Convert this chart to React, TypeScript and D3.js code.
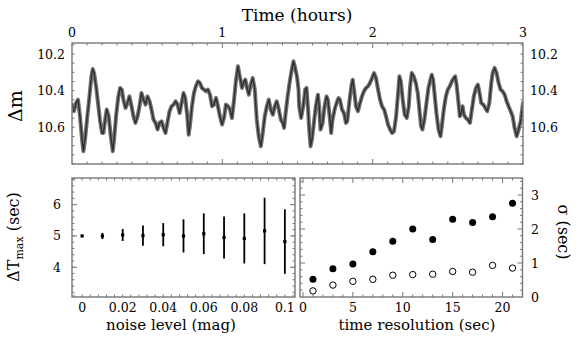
import React from "react";
import * as d3 from "d3";

// light curve: [hours, delta mag]
const lightCurve: [number, number][] = [
  [0.0, 10.476], [0.013, 10.512], [0.027, 10.467], [0.04, 10.449], [0.053, 10.54], [0.067, 10.667],
  [0.076, 10.73], [0.089, 10.649], [0.102, 10.54], [0.116, 10.431], [0.129, 10.322], [0.138, 10.282],
  [0.147, 10.304], [0.16, 10.376], [0.173, 10.467], [0.187, 10.567], [0.2, 10.631], [0.209, 10.631],
  [0.222, 10.549], [0.231, 10.503], [0.244, 10.54], [0.258, 10.649], [0.271, 10.73], [0.28, 10.667],
  [0.293, 10.54], [0.307, 10.44], [0.32, 10.385], [0.331, 10.394], [0.342, 10.449], [0.356, 10.494],
  [0.369, 10.467], [0.382, 10.431], [0.396, 10.485], [0.409, 10.54], [0.422, 10.576], [0.436, 10.54],
  [0.449, 10.485], [0.462, 10.413], [0.476, 10.449], [0.489, 10.476], [0.502, 10.431], [0.516, 10.458],
  [0.529, 10.503], [0.542, 10.558], [0.556, 10.576], [0.569, 10.612], [0.582, 10.576], [0.596, 10.567],
  [0.609, 10.603], [0.622, 10.631], [0.636, 10.567], [0.649, 10.512], [0.662, 10.485], [0.676, 10.476],
  [0.689, 10.458], [0.702, 10.476], [0.716, 10.522], [0.729, 10.467], [0.742, 10.413],
  [0.753, 10.44], [0.767, 10.54], [0.776, 10.64], [0.784, 10.594], [0.798, 10.485], [0.811, 10.413],
  [0.824, 10.376], [0.838, 10.349], [0.851, 10.358], [0.864, 10.385], [0.878, 10.394], [0.891, 10.403],
  [0.904, 10.394], [0.918, 10.422], [0.931, 10.485], [0.944, 10.476], [0.958, 10.44], [0.971, 10.485],
  [0.984, 10.54], [0.998, 10.585], [1.011, 10.549], [1.024, 10.476], [1.038, 10.485], [1.051, 10.503],
  [1.064, 10.549], [1.078, 10.449], [1.091, 10.34], [1.104, 10.267], [1.118, 10.331], [1.131, 10.385],
  [1.14, 10.358], [1.153, 10.34], [1.162, 10.376], [1.176, 10.422], [1.189, 10.367], [1.202, 10.331],
  [1.216, 10.394], [1.229, 10.558], [1.242, 10.649], [1.256, 10.703], [1.269, 10.631], [1.282, 10.54],
  [1.296, 10.485], [1.309, 10.449], [1.322, 10.503], [1.336, 10.531], [1.349, 10.485], [1.362, 10.458],
  [1.376, 10.503], [1.389, 10.558], [1.402, 10.576], [1.411, 10.603], [1.42, 10.531], [1.433, 10.44],
  [1.447, 10.358], [1.46, 10.294], [1.473, 10.24], [1.482, 10.267], [1.496, 10.322], [1.507, 10.394],
  [1.511, 10.485], [1.524, 10.549], [1.538, 10.485], [1.551, 10.394], [1.56, 10.385], [1.569, 10.485],
  [1.578, 10.612], [1.587, 10.703], [1.596, 10.667], [1.609, 10.576], [1.622, 10.485], [1.636, 10.422],
  [1.644, 10.485], [1.653, 10.612], [1.667, 10.576], [1.68, 10.485], [1.693, 10.431], [1.702, 10.449],
  [1.716, 10.558], [1.724, 10.631], [1.733, 10.558], [1.747, 10.503], [1.76, 10.467], [1.773, 10.44],
  [1.782, 10.449], [1.796, 10.503], [1.809, 10.522], [1.822, 10.576], [1.831, 10.567], [1.844, 10.467],
  [1.858, 10.376], [1.867, 10.34], [1.876, 10.394], [1.889, 10.485], [1.902, 10.512], [1.916, 10.467],
  [1.929, 10.431], [1.942, 10.403], [1.956, 10.385], [1.969, 10.376], [1.982, 10.358], [1.996, 10.331],
  [2.009, 10.304], [2.022, 10.331], [2.036, 10.394], [2.049, 10.449], [2.062, 10.485], [2.076, 10.503],
  [2.089, 10.54], [2.102, 10.585], [2.116, 10.612], [2.129, 10.631], [2.142, 10.621], [2.156, 10.54],
  [2.169, 10.413], [2.178, 10.322], [2.187, 10.349], [2.2, 10.449], [2.213, 10.531], [2.227, 10.549],
  [2.24, 10.485], [2.249, 10.376], [2.26, 10.304],
  [2.273, 10.322], [2.287, 10.358], [2.3, 10.413], [2.313, 10.522], [2.322, 10.594], [2.331, 10.612],
  [2.344, 10.558], [2.358, 10.467], [2.371, 10.385], [2.384, 10.34], [2.393, 10.313], [2.402, 10.34],
  [2.411, 10.413], [2.424, 10.522], [2.438, 10.612], [2.451, 10.649], [2.46, 10.594], [2.473, 10.503],
  [2.487, 10.431], [2.5, 10.394], [2.513, 10.376], [2.527, 10.349], [2.54, 10.331], [2.549, 10.322],
  [2.558, 10.367], [2.571, 10.467], [2.58, 10.54], [2.589, 10.522], [2.598, 10.485], [2.607, 10.531],
  [2.62, 10.549], [2.633, 10.558], [2.647, 10.576], [2.66, 10.503], [2.673, 10.431], [2.687, 10.385],
  [2.7, 10.367], [2.713, 10.422], [2.722, 10.467], [2.736, 10.476], [2.749, 10.494], [2.762, 10.512],
  [2.776, 10.467], [2.789, 10.358], [2.798, 10.304], [2.811, 10.276], [2.824, 10.304], [2.838, 10.358],
  [2.851, 10.394], [2.864, 10.403], [2.878, 10.422], [2.891, 10.458], [2.904, 10.485], [2.918, 10.512],
  [2.931, 10.54], [2.944, 10.603], [2.958, 10.649], [2.971, 10.612], [2.984, 10.567], [2.993, 10.512],
  [3.0, 10.467],
];
const hourTicks = [0, 1, 2, 3];
const magTicks = [10.2, 10.4, 10.6];

// noise simulation
const noiseLevel = [0, 0.01, 0.02, 0.03, 0.04, 0.05, 0.06, 0.07, 0.08, 0.09, 0.1];
const dtMax = [5.0, 5.0, 5.03, 5.01, 5.04, 5.0, 5.07, 4.95, 4.92, 5.16, 4.82];
const dtErr = [0.02, 0.1, 0.19, 0.32, 0.37, 0.53, 0.65, 0.67, 0.8, 1.06, 1.03];
const noiseTicks = [0, 0.02, 0.04, 0.06, 0.08, 0.1];
const noiseTickLabels = ["0", "0.02", "0.04", "0.06", "0.08", "0.1"];
const dtTicks = [4, 5, 6];

// time resolution simulation
const timeRes = [1, 3, 5, 7, 9, 11, 13, 15, 17, 19, 21];
const sigmaFilled = [0.52, 0.83, 0.97, 1.33, 1.64, 2.0, 1.69, 2.29, 2.19, 2.36, 2.76];
const sigmaOpen = [0.18, 0.35, 0.46, 0.52, 0.64, 0.66, 0.67, 0.75, 0.73, 0.93, 0.85];
const resTicks = [0, 5, 10, 15, 20];
const sigmaTicks = [0, 1, 2, 3];

const FONT = "'DejaVu Serif', serif";
const FRAME = "#777";

type Lin = d3.ScaleLinear<number, number>;

function Frame({ x, y, xMinor, xMajor, yMinor, yMajor }: { x: Lin; y: Lin; xMinor: number[]; xMajor: number[]; yMinor: number[]; yMajor: number[] }) {
  const [x0, x1] = x.range();
  const [y1, y0] = y.range(); // y range is [bottom, top]
  const top = Math.min(y0, y1), bot = Math.max(y0, y1);
  const lines: JSX.Element[] = [];
  const add = (v: number, len: number, key: string) => {
    const px = x(v);
    lines.push(<line key={"t" + key} x1={px} x2={px} y1={top} y2={top + len} />);
    lines.push(<line key={"b" + key} x1={px} x2={px} y1={bot} y2={bot - len} />);
  };
  const addY = (v: number, len: number, key: string) => {
    const py = y(v);
    lines.push(<line key={"l" + key} x1={x0} x2={x0 + len} y1={py} y2={py} />);
    lines.push(<line key={"r" + key} x1={x1} x2={x1 - len} y1={py} y2={py} />);
  };
  xMinor.forEach((v, i) => add(v, 2.5, "xm" + i));
  xMajor.forEach((v, i) => add(v, 5, "xM" + i));
  yMinor.forEach((v, i) => addY(v, 2.5, "ym" + i));
  yMajor.forEach((v, i) => addY(v, 5, "yM" + i));
  return (
    <g stroke={FRAME} strokeWidth={1}>
      {lines}
      <rect x={x0} y={top} width={x1 - x0} height={bot - top} fill="none" strokeWidth={1.4} />
    </g>
  );
}

const within = (arr: number[], s: Lin) => {
  const [a, b] = d3.extent(s.domain()) as [number, number];
  return arr.filter((v) => v > a + 1e-9 && v < b - 1e-9);
};

export default function App() {
  // top panel
  const xT = d3.scaleLinear().domain([0, 3]).range([72, 523]);
  const yT = d3.scaleLinear().domain([10.8, 10.14]).range([164, 43]);
  const line = d3
    .line<[number, number]>()
    .x((d) => xT(d[0]))
    .y((d) => yT(d[1]));
  const lcPath = line(lightCurve) || "";

  // bottom left
  const xL = d3.scaleLinear().domain([-0.005, 0.105]).range([72, 295]);
  const yL = d3.scaleLinear().domain([3.05, 6.85]).range([297, 178]);

  // bottom right
  const xR = d3.scaleLinear().domain([-0.3, 22]).range([300, 522.5]);
  const yR = d3.scaleLinear().domain([0, 3.5]).range([297, 178]);

  const fs = 12.5;
  const tickBase = 312;
  const titleBase = 330;

  return (
    <svg width={581} height={345} style={{ position: "absolute", left: 0, top: 0, background: "#fff" }} fontFamily={FONT}>
      <rect width={581} height={345} fill="#fff" />

      {/* ---------- top panel ---------- */}
      <clipPath id="topclip">
        <rect x={72} y={43} width={451} height={121} />
      </clipPath>
      <g clipPath="url(#topclip)" fill="none" strokeLinejoin="round" strokeLinecap="round">
        <path d={lcPath} stroke="#000" strokeOpacity={0.55} strokeWidth={4} />
        <path d={lcPath} stroke="#000" strokeOpacity={0.6} strokeWidth={1.4} />
      </g>
      <Frame
        x={xT}
        y={yT}
        xMinor={within(d3.range(0, 3.001, 0.1).map((v) => +v.toFixed(2)), xT).filter((v) => Math.abs(v - Math.round(v)) > 1e-6)}
        xMajor={within(hourTicks, xT)}
        yMinor={d3.range(10.15, 10.8, 0.05).map((v) => +v.toFixed(2))}
        yMajor={[]}
      />
      <text x={297} y={21} fontSize={17} textAnchor="middle">Time (hours)</text>
      {hourTicks.map((h) => (
        <text key={h} x={xT(h)} y={37} fontSize={fs} textAnchor="middle">{h}</text>
      ))}
      {magTicks.map((m) => (
        <g key={m}>
          <text x={65} y={yT(m)} dy="0.36em" fontSize={fs} textAnchor="end">{m.toFixed(1)}</text>
          <text x={530} y={yT(m)} dy="0.36em" fontSize={fs} textAnchor="start">{m.toFixed(1)}</text>
        </g>
      ))}
      <text transform="translate(22,106) rotate(-90)" fontSize={19} textAnchor="middle">Δm</text>

      {/* ---------- bottom left panel ---------- */}
      <Frame
        x={xL}
        y={yL}
        xMinor={d3.range(-0.004, 0.105, 0.004).map((v) => +v.toFixed(3))}
        xMajor={[]}
        yMinor={d3.range(3.2, 6.85, 0.2).map((v) => +v.toFixed(1))}
        yMajor={dtTicks}
      />
      <g stroke="#000" strokeWidth={1.8}>
        {noiseLevel.map((n, i) => (
          <line key={i} x1={xL(n)} x2={xL(n)} y1={yL(dtMax[i] - dtErr[i])} y2={yL(dtMax[i] + dtErr[i])} />
        ))}
      </g>
      {noiseLevel.map((n, i) => (
        <rect key={i} x={xL(n) - 1.6} y={yL(dtMax[i]) - 1.6} width={3.2} height={3.2} fill="#000" />
      ))}
      {noiseTicks.map((n, i) => (
        <text key={n} x={xL(n)} y={tickBase} fontSize={fs} textAnchor="middle">{noiseTickLabels[i]}</text>
      ))}
      {dtTicks.map((v) => (
        <text key={v} x={61} y={yL(v)} dy="0.36em" fontSize={fs} textAnchor="end">{v}</text>
      ))}
      <text x={171} y={titleBase} fontSize={15} textAnchor="middle">noise level (mag)</text>
      <text transform="translate(19,237) rotate(-90)" fontSize={16} textAnchor="middle">
        ΔT<tspan fontSize={11} dy={4}>max</tspan><tspan dy={-4}> (sec)</tspan>
      </text>

      {/* ---------- bottom right panel ---------- */}
      <Frame
        x={xR}
        y={yR}
        xMinor={d3.range(1, 22, 1).filter((v) => v % 5 !== 0)}
        xMajor={within(resTicks, xR)}
        yMinor={d3.range(0.2, 3.5, 0.2).map((v) => +v.toFixed(1)).filter((v) => Math.abs(v - Math.round(v)) > 1e-6)}
        yMajor={within(sigmaTicks, yR)}
      />
      {timeRes.map((t, i) => (
        <circle key={"o" + i} cx={xR(t)} cy={yR(sigmaOpen[i])} r={3.2} fill="#fff" stroke="#000" strokeWidth={1} />
      ))}
      {timeRes.map((t, i) => (
        <circle key={"f" + i} cx={xR(t)} cy={yR(sigmaFilled[i])} r={3.5} fill="#000" />
      ))}
      {resTicks.map((v) => (
        <text key={v} x={xR(v)} y={tickBase} fontSize={fs} textAnchor="middle">{v}</text>
      ))}
      {sigmaTicks.map((v) => (
        <text key={v} x={531} y={yR(v)} dy="0.36em" fontSize={fs} textAnchor="start">{v}</text>
      ))}
      <text x={417} y={titleBase} fontSize={15} textAnchor="middle">time resolution (sec)</text>
      <text transform="translate(558,232) rotate(90)" fontSize={16} textAnchor="middle">σ (sec)</text>
    </svg>
  );
}
